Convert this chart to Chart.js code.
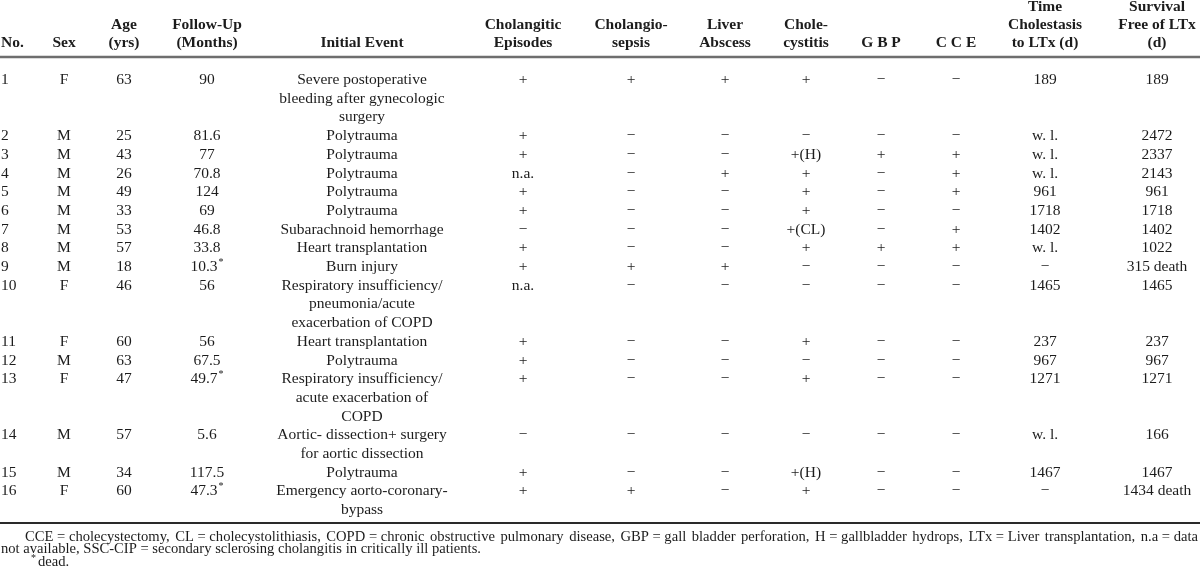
<!DOCTYPE html>
<html lang="en">
<head>
<meta charset="UTF-8">
<title>Patients with SSC-CIP</title>
<script src="https://cdn.jsdelivr.net/npm/chart.js"></script>
<style>
  html, body { margin: 0; padding: 0; background: #fff; }
  #wrap { width: 1200px; height: 581px; }
</style>
</head>
<body>
<div id="wrap"><canvas id="tbl" width="1200" height="581"></canvas></div>
<script>
  // ---- table content ----
  const headers = [
    ['No.'], ['Sex'], ['Age', '(yrs)'], ['Follow-Up', '(Months)'], ['Initial Event'],
    ['Cholangitic', 'Episodes'], ['Cholangio-', 'sepsis'], ['Liver', 'Abscess'], ['Chole-', 'cystitis'],
    ['G B P'], ['C C E'], ['Time', 'Cholestasis', 'to LTx (d)'], ['Survival', 'Free of LTx', '(d)']
  ];
  const P = '+', N = '\u2212';
  const patientNo = [1, 2, 3, 4, 5, 6, 7, 8, 9, 10, 11, 12, 13, 14, 15, 16];
  const sex = ['F', 'M', 'M', 'M', 'M', 'M', 'M', 'M', 'M', 'F', 'F', 'M', 'F', 'M', 'M', 'F'];
  const ageYrs = [63, 25, 43, 26, 49, 33, 53, 57, 18, 46, 60, 63, 47, 57, 34, 60];
  const followUpMonths = ['90', '81.6', '77', '70.8', '124', '69', '46.8', '33.8', '10.3', '56', '56', '67.5', '49.7', '5.6', '117.5', '47.3'];
  const dead = [false, false, false, false, false, false, false, false, true, false, false, false, true, false, false, true];
  const initialEvent = [
    ['Severe postoperative', 'bleeding after gynecologic', 'surgery'],
    ['Polytrauma'], ['Polytrauma'], ['Polytrauma'], ['Polytrauma'], ['Polytrauma'],
    ['Subarachnoid hemorrhage'], ['Heart transplantation'], ['Burn injury'],
    ['Respiratory insufficiency/', 'pneumonia/acute', 'exacerbation of COPD'],
    ['Heart transplantation'], ['Polytrauma'],
    ['Respiratory insufficiency/', 'acute exacerbation of', 'COPD'],
    ['Aortic- dissection+ surgery', 'for aortic dissection'],
    ['Polytrauma'],
    ['Emergency aorto-coronary-', 'bypass']
  ];
  const cholangiticEpisodes = [P, P, P, 'n.a.', P, P, N, P, P, 'n.a.', P, P, P, N, P, P];
  const cholangioSepsis     = [P, N, N, N, N, N, N, N, P, N, N, N, N, N, N, P];
  const liverAbscess        = [P, N, N, P, N, N, N, N, P, N, N, N, N, N, N, N];
  const cholecystitis       = [P, N, '+(H)', P, P, P, '+(CL)', P, N, N, P, N, P, N, '+(H)', P];
  const gbp                 = [N, N, P, N, N, N, N, P, N, N, N, N, N, N, N, N];
  const cce                 = [N, N, P, P, P, N, P, P, N, N, N, N, N, N, N, N];
  const timeToLTx = ['189', 'w. l.', 'w. l.', 'w. l.', '961', '1718', '1402', 'w. l.', N, '1465', '237', '967', '1271', 'w. l.', '1467', N];
  const survivalFreeOfLTx = ['189', '2472', '2337', '2143', '961', '1718', '1402', '1022', '315 death', '1465', '237', '967', '1271', '166', '1467', '1434 death'];
  const footnotes = [
    'CCE\u00a0=\u00a0cholecystectomy, CL\u00a0=\u00a0cholecystolithiasis, COPD\u00a0=\u00a0chronic obstructive pulmonary disease, GBP\u00a0=\u00a0gall bladder perforation, H\u00a0=\u00a0gallbladder hydrops, LTx\u00a0=\u00a0Liver transplantation, n.a\u00a0=\u00a0data',
    'not available, SSC-CIP\u00a0=\u00a0secondary sclerosing cholangitis in critically ill patients.',
    'dead.'
  ];

  // ---- layout ----
  const colX = [1, 64, 124, 207, 362, 523, 631, 725, 806, 881, 956, 1045, 1157];
  const ROW_TOP = 80, LINE_H = 18.7;
  const HEAD_BOTTOM = 43, HEAD_LINE_H = 18;
  const HEAD_RULE = 57, BOTTOM_RULE = 523;
  const footX = [25, 1, 38], footY = [537, 549.5, 562.5];
  const FOOT_RIGHT = 1198;
  const SERIF = '"Liberation Serif", "Times New Roman", serif';

  // build cells for each column
  const rowLine = [];
  let k = 0;
  initialEvent.forEach(lines => { rowLine.push(k); k += lines.length; });
  const rowY = i => ROW_TOP + LINE_H * rowLine[i];

  function simpleCol(c, values) {
    return values.map((v, i) => ({ x: colX[c], y: rowY(i), text: String(v) }));
  }
  const bodyCols = [
    simpleCol(0, patientNo),
    simpleCol(1, sex),
    simpleCol(2, ageYrs),
    followUpMonths.map((v, i) => ({ x: colX[3], y: rowY(i), text: v, sup: dead[i] ? '*' : '' })),
    initialEvent.flatMap((lines, i) => lines.map((t, j) => ({ x: colX[4], y: rowY(i) + LINE_H * j, text: t }))),
    simpleCol(5, cholangiticEpisodes),
    simpleCol(6, cholangioSepsis),
    simpleCol(7, liverAbscess),
    simpleCol(8, cholecystitis),
    simpleCol(9, gbp),
    simpleCol(10, cce),
    simpleCol(11, timeToLTx),
    simpleCol(12, survivalFreeOfLTx)
  ];
  const headCells = headers.flatMap((lines, c) =>
    lines.map((t, j) => ({ x: colX[c], y: HEAD_BOTTOM - HEAD_LINE_H * (lines.length - 1 - j), text: t })));
  const footCells = footnotes.map((t, i) => ({
    x: footX[i], y: footY[i], text: t,
    pre: i === 2 ? '*' : '',
    justify: i === 0 ? FOOT_RIGHT : 0
  }));

  const datasets = [
    { label: 'header', data: headCells, font: 'bold 15.5px ' + SERIF, align: c => c.x < 10 ? 'left' : 'center' },
    ...bodyCols.map((d, c) => ({ label: 'col' + c, data: d, font: '15.5px ' + SERIF, align: () => c === 0 ? 'left' : 'center' })),
    { label: 'foot', data: footCells, font: '14.6px ' + SERIF, align: () => 'left' }
  ].map(ds => ({ ...ds, pointRadius: 0, pointHoverRadius: 0, pointHitRadius: 0, showLine: false }));

  const tableText = {
    id: 'tableText',
    beforeDraw(chart) {
      const ctx = chart.ctx;
      ctx.save();
      ctx.fillStyle = '#fff';
      ctx.fillRect(0, 0, chart.width, chart.height);
      ctx.restore();
    },
    afterDatasetsDraw(chart) {
      const { ctx, scales: { x, y } } = chart;
      ctx.save();
      // horizontal rules
      ctx.strokeStyle = '#6e6e6e';
      ctx.lineWidth = 2.5;
      ctx.beginPath();
      ctx.moveTo(x.getPixelForValue(0), y.getPixelForValue(HEAD_RULE));
      ctx.lineTo(x.getPixelForValue(1200), y.getPixelForValue(HEAD_RULE));
      ctx.stroke();
      ctx.strokeStyle = '#2a2a2a';
      ctx.lineWidth = 2;
      ctx.beginPath();
      ctx.moveTo(x.getPixelForValue(0), y.getPixelForValue(BOTTOM_RULE));
      ctx.lineTo(x.getPixelForValue(1200), y.getPixelForValue(BOTTOM_RULE));
      ctx.stroke();

      ctx.fillStyle = '#1c1c1c';
      ctx.textBaseline = 'middle';
      ctx.textAlign = 'left';
      chart.data.datasets.forEach((ds, i) => {
        const meta = chart.getDatasetMeta(i);
        const small = ds.font.replace(/[\d.]+px/, '10px').replace('bold ', '');
        meta.data.forEach((pt, j) => {
          const cell = ds.data[j];
          ctx.font = ds.font;
          const w = ctx.measureText(cell.text).width;
          ctx.font = small;
          const supW = cell.sup ? ctx.measureText(cell.sup).width + 1 : 0;
          const x0 = ds.align(cell) === 'left' ? pt.x : pt.x - (w + supW) / 2;
          if (cell.pre) {
            ctx.fillText(cell.pre, x0 - 7, pt.y - 4);
          }
          ctx.font = ds.font;
          if (cell.justify) {
            // justified line: spread the words to the right edge
            const words = cell.text.split(' ');
            const widths = words.map(wd => ctx.measureText(wd).width);
            const total = widths.reduce((a, b) => a + b, 0);
            const right = x.getPixelForValue(cell.justify);
            const gap = (right - x0 - total) / (words.length - 1);
            let cx = x0;
            words.forEach((wd, n) => { ctx.fillText(wd, cx, pt.y); cx += widths[n] + gap; });
          } else {
            ctx.fillText(cell.text, x0, pt.y);
          }
          if (cell.sup) {
            ctx.font = small;
            ctx.fillText(cell.sup, x0 + w + 1, pt.y - 5);
          }
        });
      });
      ctx.restore();
    }
  };

  new Chart(document.getElementById('tbl'), {
    type: 'scatter',
    data: { datasets },
    options: {
      responsive: false,
      animation: false,
      devicePixelRatio: 1,
      events: [],
      layout: { padding: 0 },
      plugins: { legend: { display: false }, tooltip: { enabled: false } },
      scales: {
        x: { type: 'linear', display: false, min: 0, max: 1200 },
        y: { type: 'linear', display: false, min: 0, max: 581, reverse: true }
      }
    },
    plugins: [tableText]
  });
</script>
</body>
</html>
